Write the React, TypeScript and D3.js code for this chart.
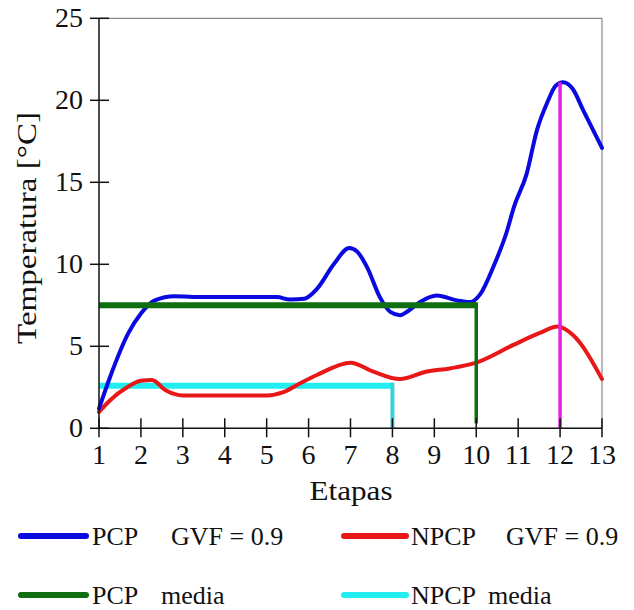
import React from "react";
import * as d3 from "d3";

const pcpX = [1.0, 1.26, 1.7, 2.0, 2.33, 2.8, 3.5, 4.5, 5.25, 5.55, 5.9, 6.2, 6.6, 6.97, 7.15, 7.4, 7.7, 7.95, 8.18, 8.4, 8.66, 9.06, 9.54, 9.85, 10.1, 10.4, 10.73, 10.9, 11.2, 11.45, 11.7, 11.9, 12.07, 12.3, 12.55, 13.0];
const pcpY = [1.2, 3.1, 5.8, 7.0, 7.8, 8.05, 8.0, 8.0, 8.0, 7.85, 7.9, 8.5, 10.0, 11.0, 10.8, 9.8, 8.0, 7.1, 6.9, 7.2, 7.7, 8.1, 7.8, 7.7, 8.2, 9.8, 12.0, 13.5, 15.5, 18.2, 19.9, 20.9, 21.1, 20.7, 19.4, 17.1];
const npcpX = [1.0, 1.26, 1.67, 2.0, 2.26, 2.6, 3.0, 4.0, 5.0, 5.4, 5.8, 6.2, 7.0, 7.55, 8.18, 8.8, 9.37, 10.0, 10.9, 11.5, 11.95, 12.3, 13.0];
const npcpY = [1.0, 1.7, 2.5, 2.9, 2.95, 2.3, 2.0, 2.0, 2.0, 2.2, 2.75, 3.25, 4.0, 3.45, 3.0, 3.45, 3.65, 4.0, 5.1, 5.8, 6.2, 5.7, 3.0];
const pcpMean = 7.5;
const pcpMeanEnd = 10;
const npcpMean = 2.6;
const npcpMeanEnd = 8;
const peakX = 12;
const peakY = 21.1;
const xTicks = [1, 2, 3, 4, 5, 6, 7, 8, 9, 10, 11, 12, 13];
const yTicks = [0, 5, 10, 15, 20, 25];

const W = 634;
const H = 610;
const left = 99;
const right = 602;
const top = 18.3;
const bottom = 428.3;

export default function App() {
  const x = d3.scaleLinear().domain([1, 13]).range([left, right]);
  const y = d3.scaleLinear().domain([0, 25]).range([bottom, top]);
  const line = d3
    .line<[number, number]>()
    .x((d) => x(d[0]))
    .y((d) => y(d[1]))
    .curve(d3.curveMonotoneX);
  const pcp = line(pcpX.map((v, i) => [v, pcpY[i]] as [number, number])) || "";
  const npcp = line(npcpX.map((v, i) => [v, npcpY[i]] as [number, number])) || "";
  const fontStyle = { fontFamily: "Liberation Serif, DejaVu Serif, serif" };
  const blue = "#0a0ae0";
  const red = "#e81818";
  const green = "#0f6e0f";
  const cyan = "#22eef2";
  const magenta = "#e620e6";

  return (
    <svg
      width={W}
      height={H}
      style={{ position: "absolute", left: 0, top: 0, background: "#fff", ...fontStyle }}
    >
      <rect x={0} y={0} width={W} height={H} fill="#fff" />
      <line x1={left} x2={right} y1={top} y2={top} stroke="#888" strokeWidth={1.2} />
      <line x1={right} x2={right} y1={top} y2={bottom} stroke="#888" strokeWidth={1.2} />
      <path d={`M${x(1)},${y(npcpMean)}H${x(npcpMeanEnd)}`} stroke={cyan} strokeWidth={6} fill="none" />
      <line
        x1={x(npcpMeanEnd)}
        x2={x(npcpMeanEnd)}
        y1={y(npcpMean) - 3}
        y2={y(0)}
        stroke="#3ccfd6"
        strokeWidth={4}
      />
      <path d={npcp} stroke={red} strokeWidth={4} fill="none" strokeLinejoin="round" strokeLinecap="round" />
      <path d={pcp} stroke={blue} strokeWidth={4} fill="none" strokeLinejoin="round" strokeLinecap="round" />
      <path d={`M${x(1)},${y(pcpMean)}H${x(pcpMeanEnd)}`} stroke={green} strokeWidth={6} fill="none" />
      <line
        x1={x(pcpMeanEnd)}
        x2={x(pcpMeanEnd)}
        y1={y(pcpMean) - 3}
        y2={y(0.3)}
        stroke={green}
        strokeWidth={3.5}
      />
      <line x1={x(peakX)} x2={x(peakX)} y1={y(peakY)} y2={y(0)} stroke={magenta} strokeWidth={3.5} />
      <line x1={left} x2={left} y1={top} y2={bottom} stroke="#111" strokeWidth={1.5} />
      <line x1={left} x2={right} y1={bottom} y2={bottom} stroke="#111" strokeWidth={1.5} />
      {yTicks.map((t) => (
        <g key={"y" + t}>
          <line x1={left - 9} x2={left + 10} y1={y(t)} y2={y(t)} stroke="#111" strokeWidth={1.5} />
          <text x={left - 16} y={y(t) + 9} fontSize={28} textAnchor="end" fill="#111" style={fontStyle}>
            {t}
          </text>
        </g>
      ))}
      {xTicks.map((t) => (
        <g key={"x" + t}>
          <line x1={x(t)} x2={x(t)} y1={bottom - 10} y2={bottom + 9} stroke="#111" strokeWidth={1.5} />
          <text x={x(t)} y={bottom + 36} fontSize={28} textAnchor="middle" fill="#111" style={fontStyle}>
            {t}
          </text>
        </g>
      ))}
      <text
        x={351}
        y={500}
        fontSize={28}
        textAnchor="middle"
        fill="#111"
        textLength={83}
        lengthAdjust="spacingAndGlyphs"
        style={fontStyle}
      >
        Etapas
      </text>
      <text
        transform={`translate(36,228) rotate(-90)`}
        fontSize={28}
        textAnchor="middle"
        fill="#111"
        textLength={232}
        lengthAdjust="spacingAndGlyphs"
        style={fontStyle}
      >
        Temperatura [°C]
      </text>
      <g fontSize={26} fill="#111" style={fontStyle}>
        <line x1={21} x2={86} y1={536} y2={536} stroke={blue} strokeWidth={6} strokeLinecap="round" />
        <text x={92} y={545}>PCP</text>
        <text x={171} y={545}>GVF = 0.9</text>
        <line x1={344} x2={406} y1={536} y2={536} stroke={red} strokeWidth={6} strokeLinecap="round" />
        <text x={411} y={545}>NPCP</text>
        <text x={506} y={545}>GVF = 0.9</text>
        <line x1={21} x2={86} y1={595} y2={595} stroke={green} strokeWidth={6} strokeLinecap="round" />
        <text x={92} y={604}>PCP</text>
        <text x={161} y={604}>media</text>
        <line x1={344} x2={406} y1={595} y2={595} stroke={cyan} strokeWidth={6} strokeLinecap="round" />
        <text x={411} y={604}>NPCP</text>
        <text x={488} y={604}>media</text>
      </g>
    </svg>
  );
}
